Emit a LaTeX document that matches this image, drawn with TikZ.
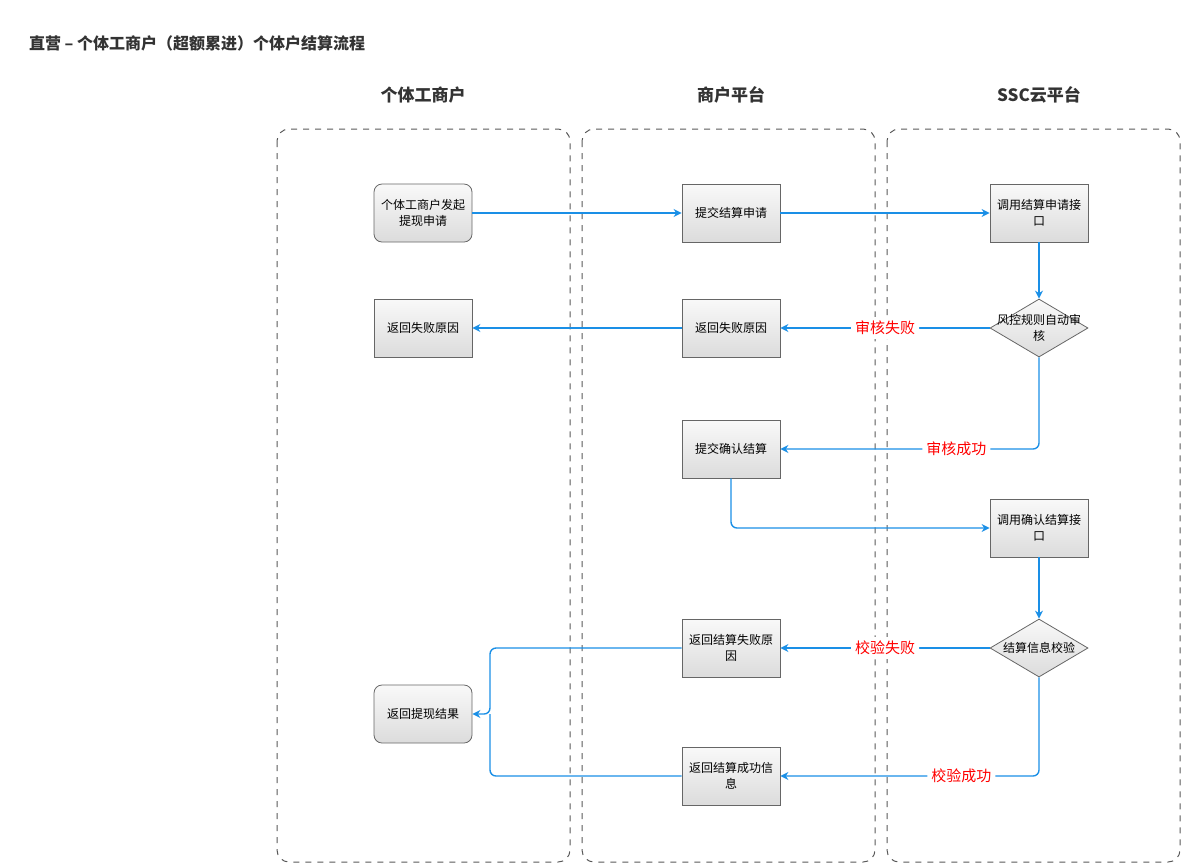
\documentclass[tikz,border=0pt]{standalone}
\usepackage{fontspec}
\setmainfont{Noto Sans CJK SC}
\usetikzlibrary{shapes.geometric}
\usetikzlibrary{arrows.meta}
\definecolor{flowblue}{HTML}{1A8FE6}
\definecolor{boxgray}{HTML}{DCDCDC}

\begin{document}
\begin{tikzpicture}[x=0.5pt,y=-0.5pt]

\tikzset{line/.style={draw=flowblue,line width=0.7pt,rounded corners=3pt}}
\tikzset{arrow/.style={line,-{Stealth[length=4pt,width=4pt]}}}
\tikzset{txt/.style={align=center,font=\fontsize{6}{8}\selectfont}}
\tikzset{box/.style={txt,draw=gray!80!black,line width=0.4pt,top color=gray!5,bottom color=boxgray,
  minimum width=49pt,minimum height=29pt,inner sep=1pt}}
\tikzset{rbox/.style={box,rounded corners=4pt}}
\tikzset{check/.style={box,diamond,minimum width=49pt,minimum height=29pt,inner sep=0pt,aspect=1.7}}
\tikzset{lane/.style={draw=gray!70!black,dashed,line width=0.5pt,rounded corners=6pt}}
\tikzset{head/.style={font=\fontsize{8.5}{10}\selectfont\bfseries,text=black!80}}
\tikzset{tag/.style={fill=white,text=red,font=\fontsize{7.5}{9}\selectfont,inner sep=2pt}}

\useasboundingbox (0,0) rectangle (1181,864);

\node[anchor=west,font=\fontsize{8}{10}\selectfont\bfseries,text=black!80] (title) at (22,43) {直营 – 个体工商户（超额累进）个体户结算流程};

\draw[lane] (277,129) rectangle (570,862);
\draw[lane] (582,129) rectangle (875,862);
\draw[lane] (887,129) rectangle (1180,862);
\node[head] (h1) at (423,95) {个体工商户};
\node[head] (h2) at (731,95) {商户平台};
\node[head] (h3) at (1039,95) {SSC云平台};

\node[rbox] (a1) at (423,213) {个体工商户发起\\提现申请};
\node[box] (a2) at (423,328) {返回失败原因};
\node[rbox] (a3) at (423,714) {返回提现结果};

\node[box] (b1) at (731,213) {提交结算申请};
\node[box] (b2) at (731,328) {返回失败原因};
\node[box] (b3) at (731,449) {提交确认结算};
\node[box] (b4) at (731,648) {返回结算失败原\\因};
\node[box] (b5) at (731,776) {返回结算成功信\\息};

\node[box] (c1) at (1039,213) {调用结算申请接\\口};
\node[check] (c2) at (1039,328) {};
\node[txt] (c2t) at (c2) {风控规则自动审\\核};
\node[box] (c3) at (1039,528) {调用确认结算接\\口};
\node[check] (c4) at (1039,648) {};
\node[txt] (c4t) at (c4) {结算信息校验};

\path[arrow] (a1) to (b1);
\path[arrow] (b1) to (c1);
\path[arrow] (c1) to (c2);
\path[arrow] (c2) to node[tag,pos=0.5] {审核失败} (b2);
\path[arrow] (b2) to (a2);
\path[arrow] (c2.south) |- node[tag,pos=0.66] {审核成功} (b3.east);
\path[arrow] (b3.south) |- (c3.west);
\path[arrow] (c3) to (c4);
\path[arrow] (c4) to node[tag,pos=0.5] {校验失败} (b4);
\path[arrow] (c4.south) |- node[tag,pos=0.65] {校验成功} (b5.east);
\path[arrow] (b4.west) -- (490,648) |- (a3.east);
\path[line] (b5.west) -| (490,714);

\end{tikzpicture}
\end{document}
